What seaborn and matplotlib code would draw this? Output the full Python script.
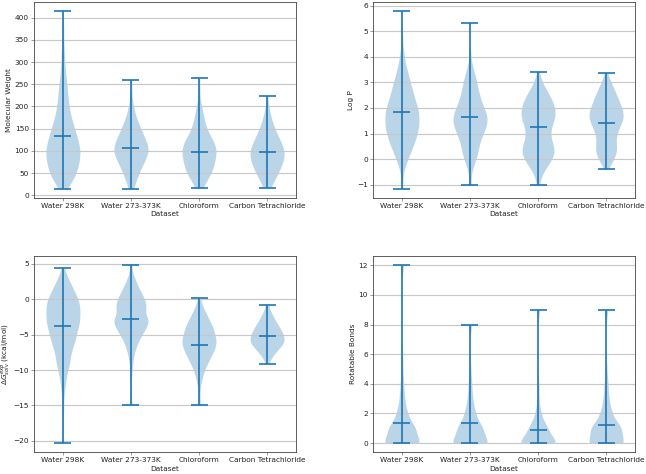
import numpy as np
import pandas as pd
import matplotlib
matplotlib.use('Agg')
import matplotlib.pyplot as plt
import seaborn as sns

## DATA
datasets = ['Water 298K', 'Water 273-373K', 'Chloroform', 'Carbon Tetrachloride']

#### Molecular weight: grid of values and counts per dataset
mw_grid = [20, 40, 60, 80, 100, 120, 140, 160, 180, 200,
           220, 240, 260, 280, 300, 320, 340, 360, 380, 400]
mw_w298 = [6, 13, 17, 19, 20, 18, 15, 12, 9, 7, 6, 5, 4, 3, 2, 2, 1, 1, 1, 0]
mw_w273 = [3, 7, 11, 16, 20, 18, 13, 9, 5, 3, 1, 1, 0, 0, 0, 0, 0, 0, 0, 0]
mw_chcl3 = [4, 11, 16, 18, 20, 17, 11, 7, 5, 3, 1, 1, 0, 0, 0, 0, 0, 0, 0, 0]
mw_ccl4 = [4, 10, 15, 19, 20, 16, 11, 7, 4, 2, 0, 0, 0, 0, 0, 0, 0, 0, 0, 0]
mw_min = [15, 15, 17, 17]
mw_max = [415, 260, 263, 224]
mw_mean = [134, 107, 98.5, 97]

#### Log P
logp_grid = [-1.0, -0.75, -0.5, -0.25, 0.0, 0.25, 0.5, 0.75, 1.0, 1.25, 1.5, 1.75, 2.0, 2.25,
             2.5, 2.75, 3.0, 3.25, 3.5, 3.75, 4.0, 4.25, 4.5, 4.75, 5.0, 5.25, 5.5]
logp_w298 = [1, 1, 2, 4, 7, 10, 13, 16, 18, 20, 20, 20, 19, 16,
             14, 12, 10, 8, 6, 4, 3, 2, 1, 1, 1, 0, 0]
logp_w273 = [1, 1, 2, 4, 7, 9, 10, 12, 15, 18, 20, 19, 16, 13,
             11, 9, 8, 6, 4, 2, 1, 1, 0, 0, 0, 0, 0]
logp_chcl3 = [1, 3, 6, 11, 16, 19, 18, 15, 14, 15, 18, 20, 19, 17,
              13, 9, 5, 2, 0, 0, 0, 0, 0, 0, 0, 0, 0]
logp_ccl4 = [0, 0, 0, 4, 9, 12, 12, 11, 12, 15, 19, 20, 18, 15,
             12, 9, 6, 2, 0, 0, 0, 0, 0, 0, 0, 0, 0]
logp_min = [-1.16, -1.03, -1.03, -0.39]
logp_max = [5.8, 5.31, 3.41, 3.37]
logp_mean = [1.84, 1.64, 1.24, 1.41]

#### Solvation free energy
dg_grid = [-20, -19, -18, -17, -16, -15, -14, -13, -12, -11, -10, -9, -8,
           -7, -6, -5, -4, -3, -2, -1, 0, 1, 2, 3, 4]
dg_w298 = [0, 0, 1, 0, 1, 1, 1, 2, 3, 4, 6, 8, 9, 11, 14, 16, 18, 20, 20, 20, 18, 14, 10, 6, 2]
dg_w273 = [0, 0, 0, 0, 0, 1, 0, 1, 0, 1, 1, 2, 3, 5, 8, 12, 17, 20, 15, 17, 15, 11, 7, 4, 1]
dg_chcl3 = [0, 0, 0, 0, 0, 1, 1, 1, 2, 4, 6, 10, 14, 18, 20, 18, 16, 12, 8, 4, 1, 0, 0, 0, 0]
dg_ccl4 = [0, 0, 0, 0, 0, 0, 0, 0, 0, 0, 0, 1, 6, 13, 20, 18, 14, 9, 5, 1, 0, 0, 0, 0, 0]
dg_min = [-20.3, -14.97, -15.0, -9.1]
dg_max = [4.34, 4.76, 0.11, -0.83]
dg_mean = [-3.79, -2.85, -6.47, -5.15]

#### Rotatable bonds
rb_grid = [0, 1, 2, 3, 4, 5, 6, 7, 8, 9, 10, 11, 12]
rb_w298 = [20, 15, 6, 3, 2, 1, 1, 0, 0, 0, 0, 0, 1]
rb_w273 = [20, 14, 6, 3, 2, 1, 0, 0, 1, 0, 0, 0, 0]
rb_chcl3 = [20, 10, 3, 1, 1, 0, 0, 0, 0, 1, 0, 0, 0]
rb_ccl4 = [18, 16, 6, 3, 2, 1, 0, 0, 0, 1, 0, 0, 0]
rb_min = [0, 0, 0, 0]
rb_max = [12, 8, 9, 9]
rb_mean = [1.39, 1.33, 0.88, 1.19]


def make_long(grid, counts_list, mins, maxs):
    frames = []
    for name, counts, lo, hi in zip(datasets, counts_list, mins, maxs):
        vals = np.concatenate([[lo], np.repeat(grid, counts), [hi]])
        frames.append(pd.DataFrame({'Dataset': name, 'value': vals}))
    return pd.concat(frames, ignore_index=True)


def fixed_bw(width):
    # kernel width in data units, same for every violin of a panel
    return lambda kde: width / np.std(kde.dataset, ddof=1)


panels = [
    (make_long(mw_grid, [mw_w298, mw_w273, mw_chcl3, mw_ccl4], mw_min, mw_max),
     mw_min, mw_max, mw_mean, 'Molecular Weight', 13),
    (make_long(logp_grid, [logp_w298, logp_w273, logp_chcl3, logp_ccl4], logp_min, logp_max),
     logp_min, logp_max, logp_mean, 'Log P', 0.2),
    (make_long(dg_grid, [dg_w298, dg_w273, dg_chcl3, dg_ccl4], dg_min, dg_max),
     dg_min, dg_max, dg_mean, r'$\Delta G_{solv}^{exp}$ (kcal/mol)', 0.65),
    (make_long(rb_grid, [rb_w298, rb_w273, rb_chcl3, rb_ccl4], rb_min, rb_max),
     rb_min, rb_max, rb_mean, 'Rotatable Bonds', 0.5),
]

plt.rcParams['font.size'] = 11.5
plt.rcParams['axes.edgecolor'] = '#444444'
plt.rcParams['axes.linewidth'] = 1.3
plt.rcParams['xtick.major.size'] = 4.5
plt.rcParams['ytick.major.size'] = 4.5
plt.rcParams['xtick.color'] = '#444444'
plt.rcParams['ytick.color'] = '#444444'
plt.rcParams['xtick.labelcolor'] = '#222222'
plt.rcParams['ytick.labelcolor'] = '#222222'
plt.rcParams['text.color'] = '#222222'
plt.rcParams['axes.labelcolor'] = '#222222'

c0 = '#1f77b4'
dpi = 646 / 14
fig, axes = plt.subplots(2, 2, figsize=(14, 474 / dpi), dpi=dpi)

for ax, (df, mins, maxs, means, ylabel, bw) in zip(axes.flat, panels):
    sns.violinplot(data=df, x='Dataset', y='value', order=datasets, ax=ax,
                   cut=0, width=0.5, density_norm='width', inner=None, gridsize=200,
                   bw_method=fixed_bw(bw), color=c0, saturation=1, linewidth=0, alpha=0.3)
    pos = np.arange(len(datasets))
    ax.vlines(pos, mins, maxs, color=c0, lw=2.6)
    ax.hlines(mins, pos - 0.125, pos + 0.125, color=c0, lw=2.6)
    ax.hlines(maxs, pos - 0.125, pos + 0.125, color=c0, lw=2.6)
    ax.hlines(means, pos - 0.125, pos + 0.125, color=c0, lw=2.6)
    ax.set_xlim(-0.425, 3.425)
    ax.autoscale(axis='y')
    ax.yaxis.grid(True, color='#c8c8c8', lw=1.8)
    ax.set_xlabel('Dataset')
    ax.set_ylabel(ylabel, labelpad=2 if ylabel.startswith('$') else 4)

fig.subplots_adjust(left=0.0526, right=0.983, top=0.9958, bottom=0.0464,
                    wspace=0.294, hspace=0.30)
fig.savefig('out.png', dpi=dpi)
